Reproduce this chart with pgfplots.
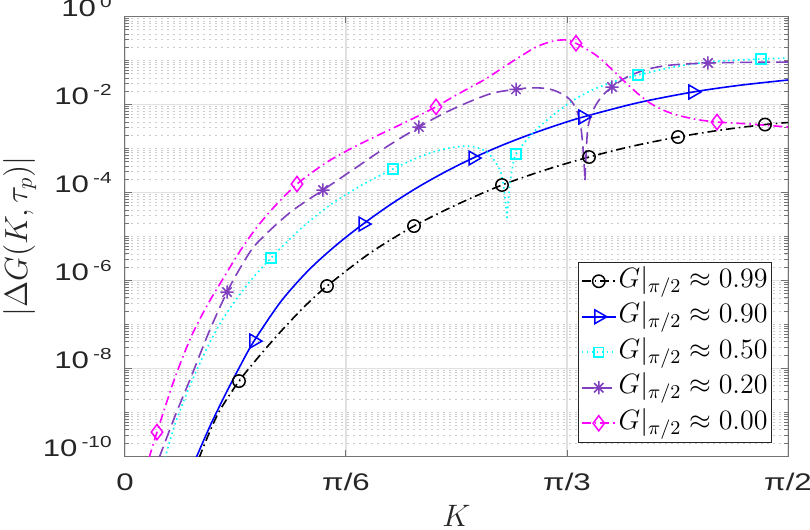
\RequirePackage{fix-cm}
\documentclass[border=0pt]{standalone}
\usepackage{fontspec}
\usepackage{graphicx}
\usepackage{pgfplots}
\usepackage{pgfplotstable}
\pgfplotsset{compat=1.18}
\newfontfamily\tickfont[FakeStretch=1.3]{Liberation Sans}

\definecolor{mpurple}{RGB}{127,63,191}
\definecolor{mcyan}{RGB}{0,255,255}
\definecolor{mmag}{RGB}{255,0,255}
\definecolor{mblue}{RGB}{0,0,255}
\definecolor{tickc}{RGB}{38,38,38}

\pgfdeclareplotmark{mstar}{%
  \pgfpathmoveto{\pgfqpoint{0pt}{\pgfplotmarksize}}\pgfpathlineto{\pgfqpoint{0pt}{-\pgfplotmarksize}}%
  \pgfpathmoveto{\pgfqpoint{\pgfplotmarksize}{0pt}}\pgfpathlineto{\pgfqpoint{-\pgfplotmarksize}{0pt}}%
  \pgfpathmoveto{\pgfqpoint{0.707\pgfplotmarksize}{0.707\pgfplotmarksize}}\pgfpathlineto{\pgfqpoint{-0.707\pgfplotmarksize}{-0.707\pgfplotmarksize}}%
  \pgfpathmoveto{\pgfqpoint{-0.707\pgfplotmarksize}{0.707\pgfplotmarksize}}\pgfpathlineto{\pgfqpoint{0.707\pgfplotmarksize}{-0.707\pgfplotmarksize}}%
  \pgfusepathqstroke}

% ---------- data: K (rad), ly = log10 |Delta G| ----------
\pgfplotstableread{
K ly
0.1753 -10.04
0.2014 -9.427
0.2251 -8.949
0.2701 -8.289
0.3222 -7.675
0.3743 -7.106
0.4265 -6.582
0.4786 -6.127
0.5805 -5.377
0.6847 -4.762
0.7889 -4.262
0.8932 -3.829
0.9951 -3.488
1.0993 -3.192
1.2036 -2.942
1.3102 -2.737
1.4120 -2.578
1.5163 -2.453
1.5708 -2.407
}\blackline
\pgfplotstableread{
K ly
0.2701 -8.289
0.4786 -6.127
0.6847 -4.762
0.8932 -3.829
1.0993 -3.192
1.3102 -2.737
1.5163 -2.453
}\blackmarks

\pgfplotstableread{
K ly
0.1682 -10.041
0.2014 -9.313
0.2346 -8.653
0.2701 -7.993
0.3056 -7.379
0.3696 -6.476
0.4348 -5.768
0.4999 -5.201
0.5639 -4.717
0.6290 -4.273
0.6942 -3.877
0.7593 -3.527
0.8245 -3.215
0.8896 -2.940
0.9548 -2.696
1.0200 -2.478
1.0851 -2.282
1.2154 -1.957
1.3457 -1.713
1.4571 -1.559
1.5708 -1.440
}\blueline
\pgfplotstableread{
K ly
0.3056 -7.379
0.5639 -4.717
0.8245 -3.215
1.0851 -2.282
1.3457 -1.713
}\bluemarks

\pgfplotstableread{
K ly
0.0948 -10.041
0.1161 -9.336
0.1362 -8.812
0.1564 -8.334
0.1955 -7.515
0.2346 -6.833
0.2902 -6.089
0.3459 -5.490
0.4158 -4.828
0.4857 -4.284
0.5603 -3.834
0.6349 -3.465
0.6788 -3.265
0.7226 -3.101
0.7664 -2.990
0.8103 -2.942
0.8340 -2.976
0.8577 -3.078
0.8742 -3.260
0.8885 -3.488
0.8956 -3.761
0.9003 -4.125
0.9034 -4.398
0.9050 -4.580
}\cyanlineA
\pgfplotstableread{
K ly
0.9050 -4.580
0.9110 -3.898
0.9169 -3.488
0.9264 -3.124
0.9631 -2.676
0.9998 -2.350
1.0508 -1.973
1.1017 -1.691
1.1585 -1.477
1.2154 -1.327
1.2888 -1.165
1.3623 -1.053
1.4345 -0.994
1.5068 -0.962
1.5708 -0.940
}\cyanlineB
\pgfplotstableread{
K ly
0.3459 -5.490
0.6349 -3.465
0.9264 -3.124
1.2154 -1.327
1.5068 -0.962
}\cyanmarks

\pgfplotstableread{
K ly
0.0806 -10.041
0.1185 -9.085
0.1564 -8.198
0.1990 -7.170
0.2417 -6.264
0.2772 -5.647
0.3127 -5.149
0.3909 -4.455
0.4691 -3.943
0.5058 -3.704
0.5425 -3.465
0.6195 -2.962
0.6965 -2.510
0.7570 -2.191
0.8174 -1.929
0.8719 -1.736
0.9264 -1.652
0.9619 -1.618
0.9998 -1.634
1.0235 -1.702
1.0472 -1.827
1.0614 -1.970
1.0733 -2.214
1.0804 -2.532
1.0851 -2.987
1.0879 -3.374
1.0898 -3.716
}\purplelineA
\pgfplotstableread{
K ly
1.0898 -3.716
1.0929 -3.033
1.0969 -2.510
1.1064 -2.191
1.1183 -1.964
1.1348 -1.759
1.1538 -1.600
1.1893 -1.372
1.2367 -1.197
1.2853 -1.108
1.3339 -1.074
1.3812 -1.053
1.4760 -1.038
1.5708 -1.031
}\purplelineB
\pgfplotstableread{
K ly
0.2417 -6.264
0.4691 -3.943
0.6965 -2.510
0.9264 -1.652
1.1538 -1.600
1.3812 -1.053
}\purplemarks

\pgfplotstableread{
K ly
0.0569 -10.041
0.0758 -9.449
0.1161 -8.273
0.1564 -7.288
0.1955 -6.553
0.2346 -5.923
0.2736 -5.317
0.3127 -4.785
0.3601 -4.257
0.4075 -3.807
0.4466 -3.520
0.4857 -3.265
0.5402 -2.976
0.5893 -2.744
0.6385 -2.519
0.6877 -2.291
0.7368 -2.050
0.7778 -1.820
0.8174 -1.611
0.8569 -1.402
0.8956 -1.156
0.9358 -0.910
0.9754 -0.683
1.0147 -0.553
1.0465 -0.530
1.0685 -0.605
1.0969 -0.758
1.1254 -0.947
1.1799 -1.440
1.2119 -1.725
1.2438 -1.964
1.2758 -2.127
1.3078 -2.237
1.3552 -2.339
1.4026 -2.396
1.4808 -2.441
1.5708 -2.510
}\magline
\pgfplotstableread{
K ly
0.0758 -9.449
0.4075 -3.807
0.7368 -2.050
1.0685 -0.605
1.4026 -2.396
}\magmarks

\tikzset{
  dashdot/.style={dash pattern=on 4.5pt off 2pt on 0.8pt off 2pt},
  mdotted/.style={dash pattern=on 0.8pt off 1.7pt},
  mdashed/.style={dash pattern=on 6pt off 3pt},
}

\begin{document}
\begin{tikzpicture}
\begin{axis}[
  name=ax,
  scale only axis,
  width=331.5pt, height=219.8pt,
  xmin=0, xmax=1.5708,
  ymode=log, log basis y=10,
  ymin=1e-10, ymax=1,
  xtick={0,0.5236,1.0472,1.5708},
  xticklabels={0,π/6,π/3,π/2},
  ytick={1e-10,1e-8,1e-6,1e-4,1e-2,1},
  yticklabels={10\hspace{2pt}\textsuperscript{-10},10\hspace{2pt}\textsuperscript{-8},10\hspace{2pt}\textsuperscript{-6},10\hspace{2pt}\textsuperscript{-4},10\hspace{2pt}\textsuperscript{-2},10\hspace{2pt}\textsuperscript{0}},
  minor ytick={2e-10,3e-10,4e-10,5e-10,6e-10,7e-10,8e-10,9e-10,
    1e-9,2e-9,3e-9,4e-9,5e-9,6e-9,7e-9,8e-9,9e-9,
    2e-8,3e-8,4e-8,5e-8,6e-8,7e-8,8e-8,9e-8,
    1e-7,2e-7,3e-7,4e-7,5e-7,6e-7,7e-7,8e-7,9e-7,
    2e-6,3e-6,4e-6,5e-6,6e-6,7e-6,8e-6,9e-6,
    1e-5,2e-5,3e-5,4e-5,5e-5,6e-5,7e-5,8e-5,9e-5,
    2e-4,3e-4,4e-4,5e-4,6e-4,7e-4,8e-4,9e-4,
    1e-3,2e-3,3e-3,4e-3,5e-3,6e-3,7e-3,8e-3,9e-3,
    2e-2,3e-2,4e-2,5e-2,6e-2,7e-2,8e-2,9e-2,
    1e-1,2e-1,3e-1,4e-1,5e-1,6e-1,7e-1,8e-1,9e-1},
  xmajorgrids=true, ymajorgrids=true, yminorgrids=true,
  major grid style={color=black!12, line width=0.6pt},
  minor grid style={color=black!20, line width=0.45pt, dash pattern=on 0.8pt off 2.2pt},
  tick align=inside,
  xtick pos=both, ytick pos=both,
  major tick length=3.3pt, minor tick length=2pt,
  tick style={color=black!55, line width=0.5pt},
  axis line style={color=black!55, line width=0.5pt},
  ticklabel style={font={\fontsize{12}{14}\selectfont\tickfont}, text=tickc},
  xticklabel style={anchor=base, inner sep=0pt, yshift=-17.1pt},
  yticklabel style={anchor=base east, inner sep=0pt, xshift=-6pt},
  xlabel={$K$},
  xlabel style={at={(axis description cs:0.5,-0.1608)}, anchor=base, inner sep=0pt, font=\fontsize{15.5}{18}\selectfont, text=tickc},
  ylabel={$|\Delta G(K,\tau_p)|$},
  ylabel style={at={(axis description cs:-0.159,0.5)}, anchor=center, inner sep=0pt, font=\fontsize{16}{18}\selectfont, text=tickc},
  legend cell align=left,
  legend style={at={(axis description cs:1,0)}, anchor=south east, xshift=-8pt, yshift=6.7pt,
    draw=tickc, line width=0.5pt, fill=white, inner xsep=1pt, inner ysep=0.7pt,
    font=\fontsize{14}{17}\selectfont, row sep=0pt,
    nodes={inner sep=1pt, text height=10.75pt, text depth=5pt}},
]
% G ~ 0.99
\addplot[black, line width=0.8pt, dashdot, smooth, forget plot] table[x=K, y expr=10^(\thisrow{ly})] {\blackline};
\addplot[black, only marks, mark=o, mark size=3.1pt, mark options={solid, line width=0.75pt}, forget plot] table[x=K, y expr=10^(\thisrow{ly})] {\blackmarks};
% G ~ 0.90
\addplot[mblue, line width=0.8pt, smooth, forget plot] table[x=K, y expr=10^(\thisrow{ly})] {\blueline};
\addplot[mblue, only marks, mark=triangle, mark size=4pt, mark options={solid, rotate=-90, line width=0.75pt}, forget plot] table[x=K, y expr=10^(\thisrow{ly})] {\bluemarks};
% G ~ 0.50
\addplot[mcyan, line width=0.8pt, mdotted, smooth, forget plot] table[x=K, y expr=10^(\thisrow{ly})] {\cyanlineA};
\addplot[mcyan, line width=0.8pt, mdotted, smooth, forget plot] table[x=K, y expr=10^(\thisrow{ly})] {\cyanlineB};
\addplot[mcyan, only marks, mark=square, mark size=2.4pt, mark options={solid, line width=0.75pt}, forget plot] table[x=K, y expr=10^(\thisrow{ly})] {\cyanmarks};
% G ~ 0.20
\addplot[mpurple, line width=0.8pt, mdashed, smooth, forget plot] table[x=K, y expr=10^(\thisrow{ly})] {\purplelineA};
\addplot[mpurple, line width=0.8pt, mdashed, smooth, forget plot] table[x=K, y expr=10^(\thisrow{ly})] {\purplelineB};
\addplot[mpurple, only marks, mark=mstar, mark size=3.3pt, mark options={solid, line width=0.75pt}, forget plot] table[x=K, y expr=10^(\thisrow{ly})] {\purplemarks};
% G ~ 0.00
\addplot[mmag, line width=0.8pt, dashdot, smooth, forget plot] table[x=K, y expr=10^(\thisrow{ly})] {\magline};
\addplot[mmag, only marks, mark=diamond, mark size=3.8pt, mark options={solid, line width=0.75pt}, forget plot] table[x=K, y expr=10^(\thisrow{ly})] {\magmarks};

\addlegendimage{black, line width=0.8pt, dashdot, mark=o, mark size=3.1pt, mark options={solid, line width=0.75pt}}
\addlegendentry{$G|_{\pi/2} \approx 0.99$}
\addlegendimage{mblue, line width=0.8pt, mark=triangle, mark size=4pt, mark options={solid, rotate=-90, line width=0.75pt}}
\addlegendentry{$G|_{\pi/2} \approx 0.90$}
\addlegendimage{mcyan, line width=0.8pt, mdotted, mark=square, mark size=2.4pt, mark options={solid, line width=0.75pt}}
\addlegendentry{$G|_{\pi/2} \approx 0.50$}
\addlegendimage{mpurple, line width=0.8pt, mdashed, mark=mstar, mark size=3.3pt, mark options={solid, line width=0.75pt}}
\addlegendentry{$G|_{\pi/2} \approx 0.20$}
\addlegendimage{mmag, line width=0.8pt, dashdot, mark=diamond, mark size=3.8pt, mark options={solid, line width=0.75pt}}
\addlegendentry{$G|_{\pi/2} \approx 0.00$}
\end{axis}
\pgfresetboundingbox
\path[use as bounding box] ([xshift=-62.5pt,yshift=-36.85pt]ax.south west) rectangle ([xshift=11pt,yshift=8.35pt]ax.north east);
\end{tikzpicture}
\end{document}
